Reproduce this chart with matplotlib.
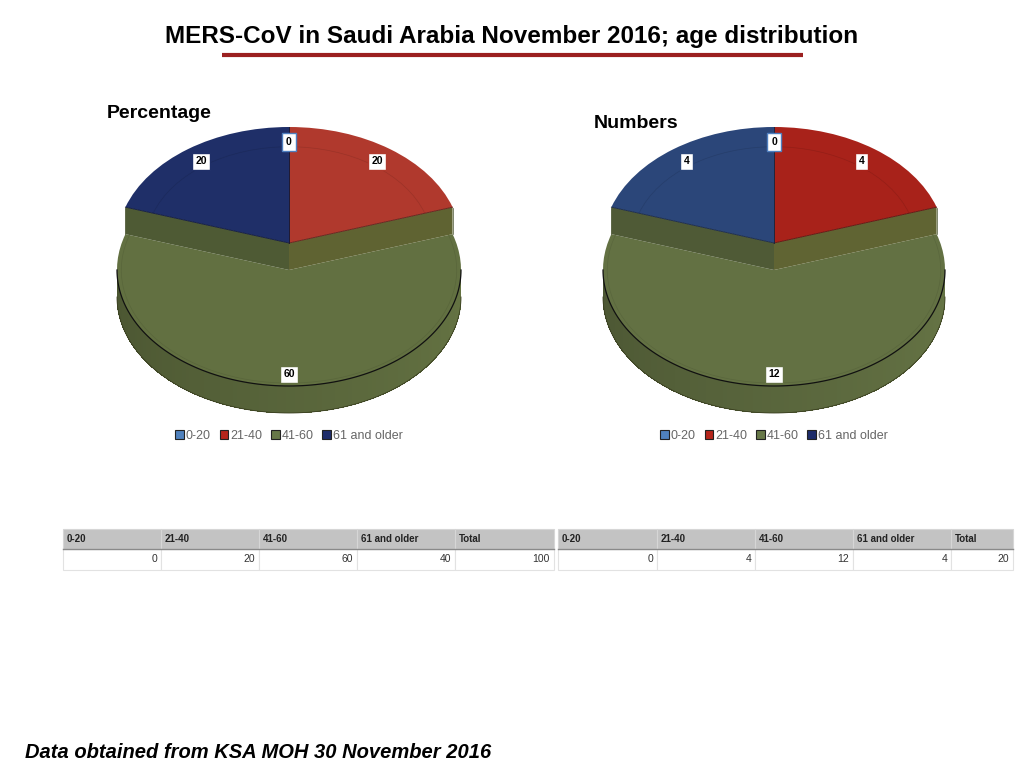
import numpy as np
import matplotlib
matplotlib.use("Agg")
import matplotlib.pyplot as plt
from matplotlib.patches import Wedge, Polygon, Rectangle, Arc, Patch
from matplotlib.transforms import Affine2D

# ---- data ----
groups = ['0-20', '21-40', '41-60', '61 and older']
pct_pie = [0, 20, 60, 20]
num_pie = [0, 4, 12, 4]
table_cols = groups + ['Total']
pct_table = [0, 20, 60, 40, 100]
num_table = [0, 4, 12, 4, 20]

left_colors = ['#4f7fbf', '#b0392d', '#627041', '#1f2f68']
right_colors = ['#4f7fbf', '#a8221a', '#637143', '#2b4679']
legend_colors = ['#4f81bd', '#b5251b', '#677848', '#1d2c6a']

plt.rcParams['font.family'] = ['Liberation Sans', 'DejaVu Sans']

fig = plt.figure(figsize=(10.24, 7.68), dpi=100)
ax = fig.add_axes([0, 0, 1, 1])
ax.set_xlim(0, 1024)
ax.set_ylim(768, 0)
ax.axis('off')


def shade(hex_color, f):
    c = np.array(matplotlib.colors.to_rgb(hex_color))
    return tuple(np.clip(c * f, 0, 1))


def draw_pie3d(ax, values, colors, cx, cy, rx, ry, depth):
    total = float(sum(values))
    bounds = np.concatenate([[0], np.cumsum(values) / total * 360.0])

    def pt(a, k=1.0, dz=0.0):
        r = np.radians(a)
        return (cx + rx * k * np.sin(r), cy - ry * k * np.cos(r) + dz)

    def face_tf(dz):
        return Affine2D().scale(rx, -ry).translate(cx, cy + dz) + ax.transData

    low = [(a0 < 180 <= a1) and v > 0 for a0, a1, v in zip(bounds[:-1], bounds[1:], values)]

    for i, v in enumerate(values):
        if not low[i]:
            continue
        a0, a1 = bounds[i], bounds[i + 1]
        col = colors[i]
        # outer side band of the front slice, darker towards the left
        s0, s1 = max(a0, 90), min(a1, 270)
        steps = np.linspace(s0, s1, 121)
        for u, w in zip(steps[:-1], steps[1:]):
            m = (u + w) / 2
            f = 0.76 + 0.28 * (270 - m) / 180
            c = shade(col, f)
            poly = [pt(u - 0.3, dz=depth), pt(w + 0.3, dz=depth),
                    pt(w + 0.3, dz=2 * depth), pt(u - 0.3, dz=2 * depth)]
            ax.add_patch(Polygon(poly, closed=True, facecolor=c, edgecolor='none', antialiased=False))
        arc_b = [pt(a, dz=2 * depth) for a in steps]
        ax.plot([p[0] for p in arc_b], [p[1] for p in arc_b], color='#3a3f20', lw=0.6)
        # lowered top face
        ax.add_patch(Wedge((0, 0), 1, 90 - a1, 90 - a0, facecolor=col, edgecolor='none',
                           transform=face_tf(depth)))
        ax.add_patch(Arc((0, 0), 1.95, 1.95, theta1=90 - a1, theta2=90 - a0, color=shade(col, 0.85),
                         lw=0.5, alpha=0.6, transform=face_tf(depth)))
        arc_f = [pt(a, dz=depth) for a in steps]
        ax.plot([p[0] for p in arc_f], [p[1] for p in arc_f], color='#111111', lw=0.9)
        # radial walls below the raised slices
        for a, f in ((a0, 0.93), (a1, 0.80)):
            wall = [(cx, cy), pt(a), pt(a, dz=depth), (cx, cy + depth)]
            wc = np.array(shade(col, f))
            if a == a0:
                wc = wc * np.array([1.04, 0.95, 0.82])
            ax.add_patch(Polygon(wall, closed=True, facecolor=np.clip(wc, 0, 1), edgecolor='none'))
            ax.plot([pt(a)[0], pt(a, dz=depth)[0]], [pt(a)[1] + 1, pt(a, dz=depth)[1]],
                    color=shade(col, 0.75), lw=0.5)

    for i, v in enumerate(values):
        if low[i] or v <= 0:
            continue
        a0, a1 = bounds[i], bounds[i + 1]
        ax.add_patch(Wedge((0, 0), 1, 90 - a1, 90 - a0, facecolor=colors[i], edgecolor='none',
                           transform=face_tf(0)))
        ax.add_patch(Arc((0, 0), 1.66, 1.66, theta1=90 - a1, theta2=90 - a0, color=shade(colors[i], 0.8),
                         lw=0.5, alpha=0.6, transform=face_tf(0)))
        for a in (a0, a1):
            p = pt(a)
            ax.plot([cx, p[0]], [cy, p[1]], color=shade(colors[i], 0.55), lw=0.6)

    # value labels
    for i, v in enumerate(values):
        a = (bounds[i] + bounds[i + 1]) / 2
        if low[i]:
            x, y = pt(a, 0.9, depth)
        else:
            x, y = pt(a, 0.87)
        ax.text(x, y, str(v), ha='center', va='center', fontsize=7.5, fontweight='bold', color='black',
                bbox=dict(boxstyle='square,pad=0.35', facecolor='white', edgecolor=colors[i], lw=1.0))


draw_pie3d(ax, pct_pie, left_colors, 289, 243, 172, 116, 27)
draw_pie3d(ax, num_pie, right_colors, 774, 243, 171, 116, 27)

# titles
ax.text(512, 36, 'MERS-CoV in Saudi Arabia November 2016; age distribution', ha='center', va='center',
        fontsize=17.5, fontweight='bold')
ax.plot([222, 803], [55, 55], color='#9b2020', lw=3, solid_capstyle='butt')
ax.text(107, 114, 'Percentage', ha='left', va='center', fontsize=14, fontweight='bold')
ax.text(594, 124, 'Numbers', ha='left', va='center', fontsize=14, fontweight='bold')

# legends
handles = [Patch(facecolor=c, edgecolor='#222222', lw=0.8) for c in legend_colors]
for lx in (289, 774):
    fig.legend(handles, groups, loc='center', bbox_to_anchor=(lx, 436), bbox_transform=ax.transData,
               ncol=4, frameon=False, fontsize=9, labelcolor='#666666', handlelength=0.7,
               handleheight=0.7, handletextpad=0.15, columnspacing=0.7, borderpad=0)

# tables
def draw_table(ax, cols, vals, edges, top=529, hh=20, rh=21):
    for j, (name, v) in enumerate(zip(cols, vals)):
        x0, x1 = edges[j], edges[j + 1]
        ax.add_patch(Rectangle((x0, top), x1 - x0, hh, facecolor='#c3c3c3', edgecolor='#d6d6d6', lw=0.8))
        ax.add_patch(Rectangle((x0, top + hh), x1 - x0, rh, facecolor='white', edgecolor='#e2e2e2', lw=0.8))
        ax.text(x0 + 4, top + hh / 2, name, ha='left', va='center', fontsize=7, fontweight='bold',
                color='#222222')
        ax.text(x1 - 4, top + hh + rh / 2, str(v), ha='right', va='center', fontsize=7.5, color='#333333')
    ax.plot([edges[0], edges[-1]], [top + hh, top + hh], color='#8a8a8a', lw=1.0)


draw_table(ax, table_cols, pct_table, [63, 161, 259, 357, 455, 554])
draw_table(ax, table_cols, num_table, [558, 657, 755, 853, 951, 1013])

ax.text(25, 752, 'Data obtained from KSA MOH 30 November 2016', ha='left', va='center',
        fontsize=14.5, fontweight='bold', fontstyle='italic')

fig.savefig('out.png', dpi=100)
